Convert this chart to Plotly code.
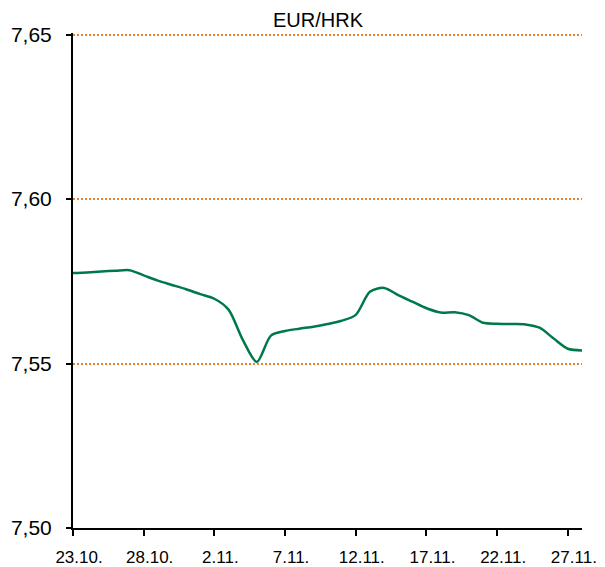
import plotly.graph_objects as go
import pandas as pd

# Data (daily EUR/HRK mid rates)
dates = pd.date_range("2020-10-23", "2020-11-28", freq="D")
rates = [
    7.5775, 7.5777, 7.5780, 7.5782, 7.5784, 7.5768, 7.5752, 7.5739, 7.5726, 7.5711,
    7.5697, 7.5664, 7.5573, 7.5505, 7.5585, 7.5599, 7.5606, 7.5612, 7.5620, 7.5630,
    7.5648, 7.5718, 7.5730, 7.5708, 7.5688, 7.5668, 7.5655, 7.5656, 7.5647, 7.5624,
    7.5621, 7.5620, 7.5619, 7.5609, 7.5576, 7.5545, 7.5540,
]
tick_dates = ["2020-10-23", "2020-10-28", "2020-11-02", "2020-11-07",
              "2020-11-12", "2020-11-17", "2020-11-22", "2020-11-27"]
tick_labels = ["23.10.", "28.10.", "2.11.", "7.11.", "12.11.", "17.11.", "22.11.", "27.11."]
y_ticks = [7.50, 7.55, 7.60, 7.65]
title = "EUR/HRK"

GRID = "#ED7D31"

fig = go.Figure()
fig.add_trace(go.Scatter(
    x=dates, y=rates, mode="lines",
    line=dict(color="#00794A", width=2.5, shape="spline", smoothing=0.8),
    showlegend=False, hoverinfo="skip",
))

# page body has an 8px margin, so the figure is made 8px smaller and offset
fig.update_layout(
    width=597, height=559,
    margin=dict(l=65, r=23, t=25, b=39, pad=0, autoexpand=False),
    paper_bgcolor="white", plot_bgcolor="white",
    separators=",.",
    font=dict(family="Liberation Sans, Arial, sans-serif", color="#000000"),
    title=dict(text=title, xref="container", yref="container",
               x=310 / 597, y=1 - 11.5 / 559, xanchor="center", yanchor="middle",
               font=dict(size=20, color="#000000")),
)

fig.update_xaxes(
    type="date",
    range=["2020-10-23", "2020-11-28"],
    tickvals=tick_dates, ticktext=tick_labels,
    showgrid=False, zeroline=False,
    showline=True, linecolor="#000000", linewidth=2,
    ticks="outside", ticklen=6, tickwidth=2, tickcolor="#000000",
    tickfont=dict(size=17, family="Liberation Sans, Arial, sans-serif"),
    ticklabelshift=6, ticklabelstandoff=7, ticklabeloverflow="allow",
)

fig.update_yaxes(
    range=[7.50, 7.6505],
    tickvals=y_ticks, tickformat=".2f",
    showgrid=True, gridcolor=GRID, gridwidth=2, griddash="2px,2px",
    zeroline=False,
    showline=True, linecolor="#000000", linewidth=2,
    ticks="outside", ticklen=5, tickwidth=2, tickcolor="#000000",
    tickfont=dict(size=21, family="Liberation Sans, Arial, sans-serif"),
    ticklabelstandoff=10,
)

fig.write_html("out.html")
